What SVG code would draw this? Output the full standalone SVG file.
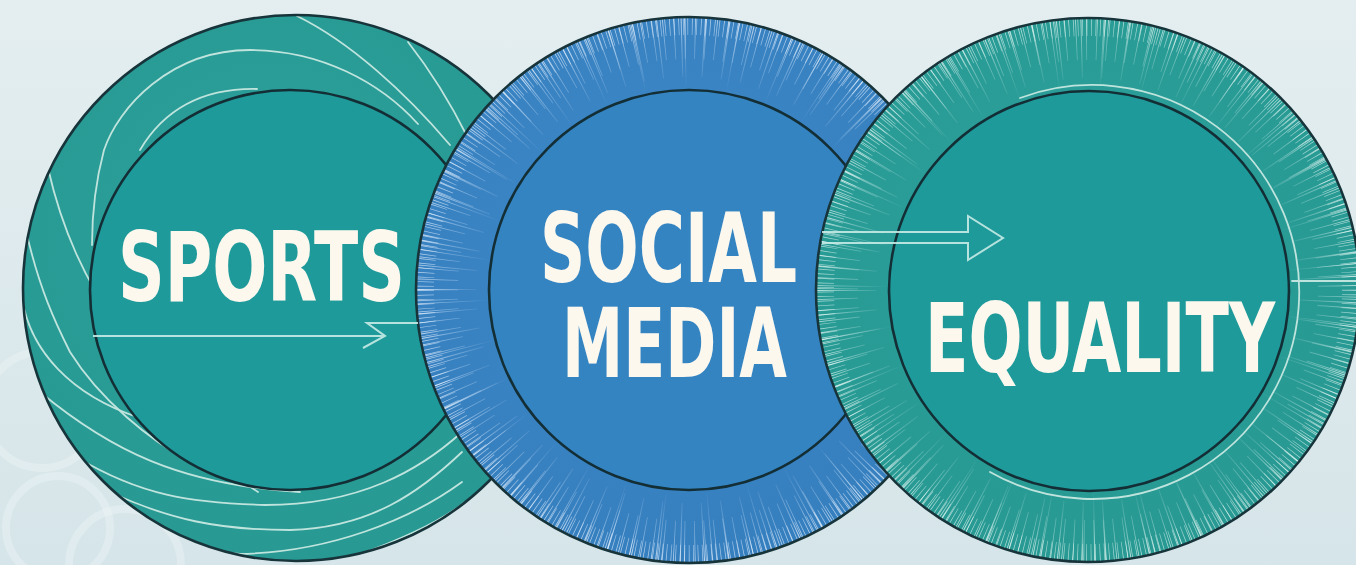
<svg xmlns="http://www.w3.org/2000/svg" width="1356" height="565" viewBox="0 0 1356 565">
  <defs>
    <linearGradient id="bg" x1="0" y1="0" x2="0" y2="1">
      <stop offset="0" stop-color="#e4eef0"/>
      <stop offset="1" stop-color="#d6e5e9"/>
    </linearGradient>
    <radialGradient id="tealRing" cx="0.45" cy="0.4" r="0.7">
      <stop offset="0" stop-color="#2ca09c"/>
      <stop offset="1" stop-color="#279891"/>
    </radialGradient>
    <radialGradient id="blueRing" cx="0.45" cy="0.4" r="0.7">
      <stop offset="0" stop-color="#3d88c8"/>
      <stop offset="1" stop-color="#357ebe"/>
    </radialGradient>
    <!-- streak fades: transparent near the inner disc, bright at the rim -->
    <radialGradient id="blueStreak" gradientUnits="userSpaceOnUse" cx="689" cy="290" r="273">
      <stop offset="0.74" stop-color="#d8e9fb" stop-opacity="0"/>
      <stop offset="0.9" stop-color="#d8e9fb" stop-opacity="0.4"/>
      <stop offset="1" stop-color="#e6f1fc" stop-opacity="0.8"/>
    </radialGradient>
    <radialGradient id="tealStreak" gradientUnits="userSpaceOnUse" cx="1088" cy="290" r="272">
      <stop offset="0.74" stop-color="#d4f0ec" stop-opacity="0"/>
      <stop offset="0.9" stop-color="#d4f0ec" stop-opacity="0.4"/>
      <stop offset="1" stop-color="#e4f6f3" stop-opacity="0.8"/>
    </radialGradient>
    <clipPath id="leftOuter"><circle cx="296" cy="288" r="273"/></clipPath>
    <style>
      .rim { stroke: #17343b; stroke-width: 2.6; }
      .disc { stroke: #132e35; stroke-width: 2.6; }
      .swirl { fill: none; stroke: #bfe4dd; stroke-width: 1.8; stroke-linecap: round; }
      .streak { fill: none; }
      .label { font-family: 'DejaVu Sans Condensed', 'Liberation Sans Narrow', 'Liberation Sans', sans-serif; font-weight: bold; font-size: 97px; fill: #fcf8ee; }
      .arrow { fill: none; stroke: #c6ebe5; stroke-width: 2; stroke-linejoin: miter; opacity: 0.9; }
      .olympic { fill: none; stroke: #f2f8f9; stroke-width: 8; opacity: 0.32; }
    </style>
  </defs>

  <!-- backdrop -->
  <rect width="1356" height="565" fill="url(#bg)"/>
  <g id="backdrop-rings">
    <circle class="olympic" cx="42" cy="410" r="58"/>
    <circle class="olympic" cx="58" cy="528" r="52"/>
    <circle class="olympic" cx="125" cy="565" r="56"/>
  </g>

  <!-- SPORTS -->
  <g id="node-sports">
    <circle cx="296" cy="288" r="273" fill="url(#tealRing)"/>
    <g clip-path="url(#leftOuter)">
      <path class="swirl" d="M418,124 C380,82 320,50 250,50 C170,50 118,108 104,150 C96,180 92,215 92,245"/>
      <path class="swirl" d="M257,89 C205,88 165,108 140,150"/>
      <path class="swirl" d="M297,16 C350,42 405,92 450,145"/>
      <path class="swirl" d="M408,42 C430,70 450,102 468,138"/>
      <path class="swirl" d="M48,168 C62,230 85,280 120,330"/>
      <path class="swirl" d="M27,235 C40,290 55,322 70,352 C100,400 150,440 190,462"/>
      <path class="swirl" d="M22,298 C30,350 70,395 140,418 C190,438 225,470 258,492"/>
      <path class="swirl" d="M40,392 C110,450 180,485 300,492"/>
      <path class="swirl" d="M78,458 C140,495 190,503 265,505 C360,505 420,470 462,432"/>
      <path class="swirl" d="M110,492 C170,520 220,530 290,530 C370,528 420,492 462,452"/>
      <path class="swirl" d="M133,510 C180,540 210,552 240,554 C330,552 410,520 462,482"/>
      <path class="swirl" d="M355,556 C400,540 440,522 465,502"/>
    </g>
    <circle class="rim" cx="296" cy="288" r="273" fill="none"/>
    <circle class="disc" cx="290" cy="290" r="200" fill="#1f9a9b"/>
    <text class="label" x="118" y="301" textLength="287" lengthAdjust="spacingAndGlyphs">SPORTS</text>
  </g>

  <!-- SOCIAL MEDIA -->
  <g id="node-social-media">
    <circle cx="689" cy="290" r="273" fill="url(#blueRing)"/>
    <g class="streak" stroke="url(#blueStreak)">
      <circle cx="689" cy="290" r="264" stroke-width="18" stroke-dasharray="0.7 3.8"/>
      <circle cx="689" cy="290" r="252" stroke-width="42" stroke-dasharray="0.8 9.5" stroke-dashoffset="2"/>
      <circle cx="689" cy="290" r="243" stroke-width="60" stroke-dasharray="1 21" stroke-dashoffset="7"/>
      <circle cx="689" cy="290" r="238" stroke-width="70" stroke-dasharray="0.8 47" stroke-dashoffset="30"/>
    </g>
    <circle class="rim" cx="689" cy="290" r="273" fill="none"/>
    <circle class="disc" cx="689" cy="290" r="200" fill="#3584c2"/>
    <text class="label" x="540" y="282" textLength="257" lengthAdjust="spacingAndGlyphs">SOCIAL</text>
    <text class="label" x="562" y="377" textLength="225" lengthAdjust="spacingAndGlyphs">MEDIA</text>
  </g>

  <!-- EQUALITY -->
  <g id="node-equality">
    <circle cx="1088" cy="290" r="272" fill="url(#tealRing)"/>
    <g class="streak" stroke="url(#tealStreak)">
      <circle cx="1088" cy="290" r="263" stroke-width="18" stroke-dasharray="0.7 3.8"/>
      <circle cx="1088" cy="290" r="251" stroke-width="42" stroke-dasharray="0.8 9.5" stroke-dashoffset="4"/>
      <circle cx="1088" cy="290" r="242" stroke-width="60" stroke-dasharray="1 21" stroke-dashoffset="11"/>
      <circle cx="1088" cy="290" r="237" stroke-width="70" stroke-dasharray="0.8 47" stroke-dashoffset="17"/>
    </g>
    <circle class="rim" cx="1088" cy="290" r="272" fill="none"/>
    <path class="swirl" d="M1020,98 A207,207 0 1 1 990,472" stroke-width="1.6"/>
    <path class="swirl" d="M1292,281 H1356" stroke-width="1.6"/>
    <circle class="disc" cx="1089" cy="291" r="200" fill="#1f9a9b"/>
    <text class="label" x="925" y="372" textLength="350" lengthAdjust="spacingAndGlyphs">EQUALITY</text>
  </g>

  <!-- connectors -->
  <g id="connectors">
    <path class="arrow" d="M93,336 H385 M418,323 H367 L385,336 L363,348" stroke="#bfe4dd" stroke-width="1.8"/>
    <path class="arrow" d="M822,232 H968 V216 L1003,238 L968,260 V243 H822"/>
  </g>
</svg>
